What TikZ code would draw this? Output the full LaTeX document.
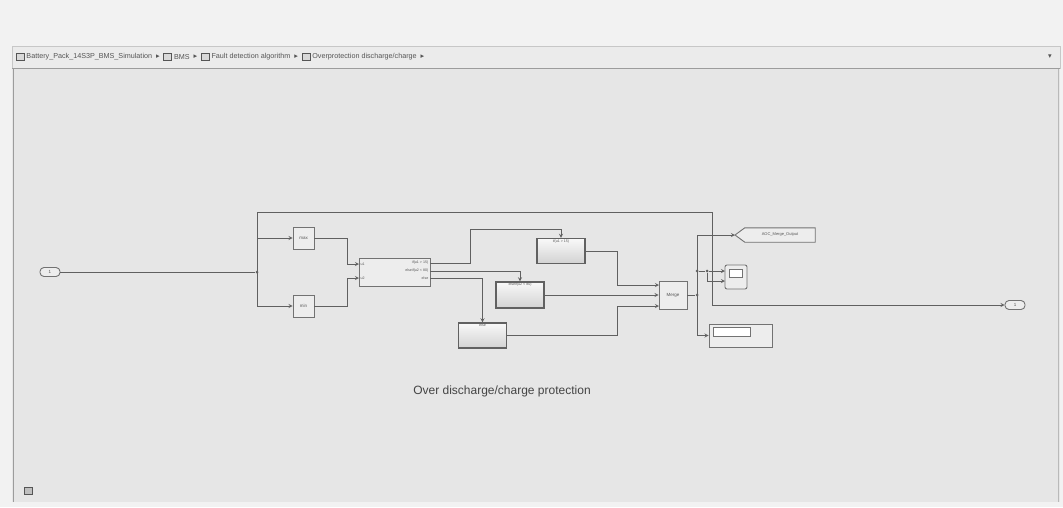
\documentclass[tikz,border=0pt]{standalone}
\usepackage{fontspec}
\setmainfont{Liberation Sans}
\newfontfamily\symfont{DejaVu Sans}
\usepackage{tikz}
\usetikzlibrary{arrows,positioning}
\definecolor{paper}{HTML}{F2F2F2}
\definecolor{canvas}{HTML}{E6E6E6}
\definecolor{crumbbar}{HTML}{EBEBEB}
\definecolor{wire}{HTML}{606060}
\definecolor{edge}{HTML}{727272}
\definecolor{blkfill}{HTML}{EDEDED}
\definecolor{ink}{HTML}{555555}

\begin{document}
\begin{tikzpicture}[x=1pt,y=-1pt,>=stealth]
 % styles
 \tikzstyle{sig} = [->,draw=wire,line width=0.8pt];
 \tikzstyle{line} = [draw=wire,line width=0.8pt];
 \tikzstyle{dot} = [circle,fill=wire,inner sep=0pt,minimum size=3pt];
 \tikzstyle{blk} = [rectangle,draw=edge,fill=blkfill,line width=0.9pt,inner sep=0pt,
                    minimum width=21pt,minimum height=22pt,text=ink,font=\fontsize{4.5}{5}\selectfont];
 \tikzstyle{action} = [blk,draw=edge!85!black,line width=1.4pt,top color=white!95!gray,bottom color=gray!35,
                       minimum width=48pt,minimum height=25pt];
 \tikzstyle{iport} = [rectangle,rounded corners=4pt,draw=edge,fill=blkfill,line width=0.9pt,
                      minimum width=20pt,minimum height=9pt,inner sep=0pt,text=ink,font=\fontsize{4.5}{5}\selectfont];
 \tikzstyle{plbl} = [inner sep=0.5pt,text=ink,font=\fontsize{3.6}{4}\selectfont];
 \tikzstyle{crumb} = [inner sep=1pt,text=ink,font=\fontsize{7.2}{8}\selectfont];
 \tikzstyle{crumbicon} = [rectangle,draw=ink,fill=gray!30,minimum width=8pt,minimum height=7pt,inner sep=0pt,line width=0.5pt];

 % frame
 \useasboundingbox (0,0) rectangle (1063,507);
 \fill[paper] (0,0) rectangle (1063,507);
 \fill[crumbbar] (12,46) rectangle (1060,68);
 \draw[edge!40,line width=0.6pt] (12,46) rectangle (1060,68);
 \fill[canvas] (12,68) rectangle (1060,502);
 \draw[edge!70,line width=0.8pt] (13,68) -- (13,502);
 \draw[edge!50,line width=0.6pt] (1058,68) -- (1058,502);
 \draw[edge!70,line width=0.8pt] (12,68) -- (1060,68);
 \node[crumbicon,fill=gray!50] (cornericon) at (28,491) {};

 % breadcrumb
 \node[crumbicon] (ic1) at (20,57) {};
 \node[crumb,right=1pt of ic1] (c1) {Battery\_Pack\_14S3P\_BMS\_Simulation};
 \node[crumb,right=1.5pt of c1] (a1) {\symfont ▸};
 \node[crumbicon,right=2.5pt of a1] (ic2) {};
 \node[crumb,right=1pt of ic2] (c2) {BMS};
 \node[crumb,right=1.5pt of c2] (a2) {\symfont ▸};
 \node[crumbicon,right=2.5pt of a2] (ic3) {};
 \node[crumb,right=1pt of ic3] (c3) {Fault detection algorithm};
 \node[crumb,right=1.5pt of c3] (a3) {\symfont ▸};
 \node[crumbicon,right=2.5pt of a3] (ic4) {};
 \node[crumb,right=1pt of ic4] (c4) {Overprotection discharge/charge};
 \node[crumb,right=1.5pt of c4] (a4) {\symfont ▸};
 \node[crumb] (drop) at (1050,57) {\symfont ▾};

 % blocks
 \node[iport] (inp) at (50,272) {1};
 \node[blk] (maxblk) at (303.5,238) {max};
 \node[blk] (minblk) at (303.5,306) {min};
 \node[blk,minimum width=71pt,minimum height=28pt] (ifblk) at (394.5,272) {};
 \node[plbl,anchor=west] at (360,264) {u1};
 \node[plbl,anchor=west] at (360,278) {u2};
 \node[plbl,anchor=east] at (429,263) {if(u1 > 15)};
 \node[plbl,anchor=east] at (429,271) {elseif(u2 < 80)};
 \node[plbl,anchor=east] at (429,278) {else};
 \node[action] (act1) at (561,251) {};
 \node[plbl,below=1pt of act1.north] {if(u1 > 15)};
 \node[action,minimum height=26pt] (act2) at (520,295) {};
 \node[plbl,below=1pt of act2.north] {elseif(u2 < 80)};
 \node[action] (act3) at (482.5,335.5) {};
 \node[plbl,below=1pt of act3.north] {else};
 \node[blk,minimum width=28pt,minimum height=28pt] (merge) at (673,295) {Merge};

 \coordinate (gototip) at (735,235);
 \node[inner sep=0pt,minimum width=70pt,minimum height=14pt] (goto) at (780,235) {};
 \draw[draw=edge,fill=blkfill,line width=0.9pt] (goto.north west) -- (gototip) -- (goto.south west)
       -- (goto.south east) -- (goto.north east) -- cycle;
 \node[plbl,font=\fontsize{4}{5}\selectfont] at (goto.center) {AOC\_Merge\_Output};

 \node[blk,rounded corners=2pt,minimum width=22pt,minimum height=24pt] (scope) at (736,277) {};
 \node[rectangle,draw=edge,fill=white,minimum width=13pt,minimum height=8pt,inner sep=0pt,line width=0.5pt] (screen) at (736,273) {};
 \node[blk,minimum width=63pt,minimum height=23pt] (disp) at (740.5,335.5) {};
 \node[rectangle,draw=edge,fill=white,minimum width=37pt,minimum height=9pt,inner sep=0pt,line width=0.5pt] (dispwin) at (731.5,332) {};
 \node[iport] (outp) at (1015,305) {1};

 % branch points
 \node[dot] (bin) at (257,272) {};
 \node[dot] (bmerge) at (697,295) {};
 \node[dot] (bgoto) at (697,271) {};
 \node[dot] (bscope) at (707,271) {};

 % edges
 \draw[line] (inp) -- (bin);
 \draw[line] (257,212) -- (257,306);
 \draw[sig] (257,238) -- (maxblk.west);
 \draw[sig] (257,306) -- (minblk.west);
 \draw[sig] (257,212) -- (712,212) -- (712,305) -- (outp.west);

 \draw[sig] (maxblk.east) -- (347,238) -- (347,264) -- (359,264);
 \draw[sig] (minblk.east) -- (347,306) -- (347,278) -- (359,278);

 \draw[sig] (430,263) -- (470,263) -- (470,229) -- (561,229) -- (act1.north);
 \draw[sig] (430,271) -- (520,271) -- (act2.north);
 \draw[sig] (430,278) -- (482.5,278) -- (act3.north);

 \draw[sig] (act1.east) -- (617,251) -- (617,285) -- (659,285);
 \draw[sig] (act2.east) -- (merge.west);
 \draw[sig] (act3.east) -- (617,335.5) -- (617,306) -- (659,306);

 \draw[line] (merge.east) -- (bmerge);
 \draw[line] (697,235) -- (697,335.5);
 \draw[sig] (697,235) -- (gototip);
 \draw[line] (bgoto) -- (bscope);
 \draw[sig] (bscope) -- (725,271);
 \draw[sig] (bscope) -- (707,281) -- (725,281);
 \draw[sig] (697,335.5) -- (disp.west);

 % annotation
 \node[text=ink!80!black,font=\fontsize{12}{14}\selectfont] (note) at (502,391) {Over discharge/charge protection};
\end{tikzpicture}
\end{document}
